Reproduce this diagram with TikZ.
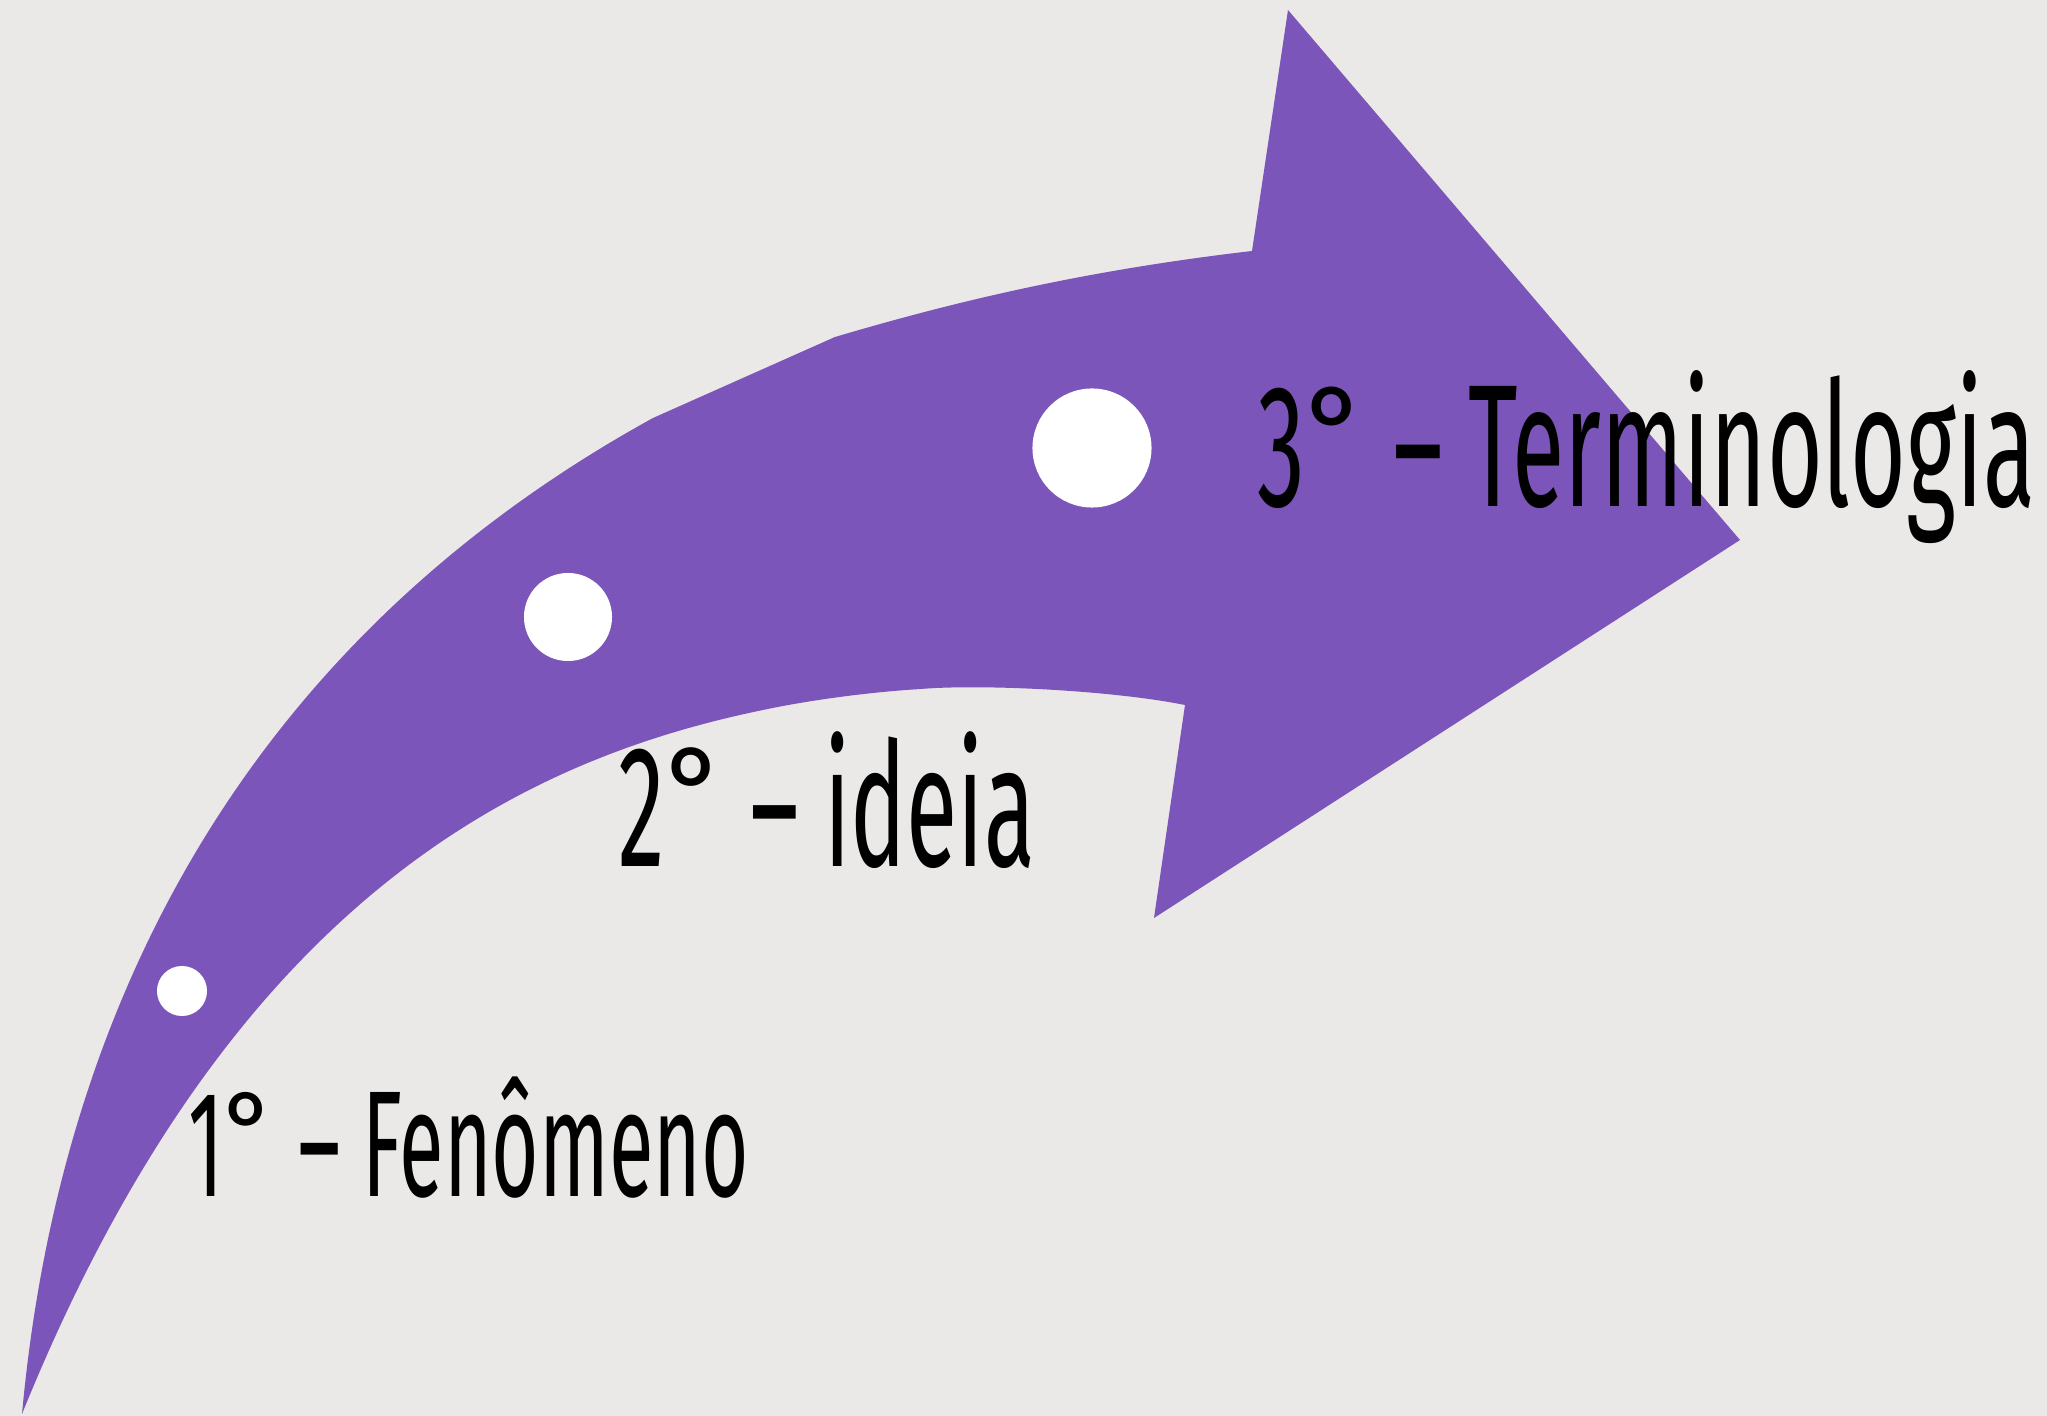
\documentclass[tikz,border=0pt]{standalone}
\usepackage{fontspec}
\usepackage{tikz}
\newfontfamily\stagefont{Fira Sans}
\definecolor{paper}{RGB}{234, 233, 231}
\definecolor{arrowviolet}{RGB}{123, 85, 185}
% condensed stage text: width, cap height, text
\newcommand*{\stage}[3]{\resizebox{#1}{#2}{\stagefont\vphantom{T}\smash{#3}}}
% small round degree sign inside the condensed text
\newcommand*{\degr}{\raisebox{0.2em}{\scalebox{1.25}[0.7]{°}}}

\begin{document}
\begin{tikzpicture}[
   x=0.01cm, y=-0.01cm,
   dot/.style={circle, fill=white, inner sep=0},
   stagetext/.style={anchor=base west, inner sep=0, text=black}
  ]

  % Paper
  \fill[paper] (0, 0) rectangle (2047, 1416);

  % Curved arrow
  \coordinate (tail) at (22, 1414);
  \coordinate (topnotch) at (1252, 251);
  \coordinate (toptip) at (1288, 10);
  \coordinate (tip) at (1740, 540);
  \coordinate (bottip) at (1154, 918);
  \coordinate (botnotch) at (1185, 705);
  \fill[arrowviolet] (tail)
    .. controls (60, 1000) and (250, 640) .. (653, 418)
    -- (835, 337)
    .. controls (950, 303) and (1080, 271) .. (topnotch)
    -- (toptip) -- (tip) -- (bottip) -- (botnotch)
    .. controls (1110, 690) and (980, 684) .. (921, 689)
    .. controls (870, 692) and (810, 700) .. (763, 710)
    .. controls (520, 760) and (230, 900) .. (tail)
    -- cycle;

  % Stages
  \node (dotA) at (182, 991) [dot, minimum size=0.5cm] {};
  \node (dotB) at (568, 617) [dot, minimum size=0.88cm] {};
  \node (dotC) at (1092, 448) [dot, minimum size=1.19cm] {};

  \node (stageA) at (188, 1197) [stagetext] {\stage{5.60cm}{1.04cm}{1\degr{} – Fenômeno}};
  \node (stageB) at (618, 867) [stagetext] {\stage{4.16cm}{1.19cm}{2\degr{} – ideia}};
  \node (stageC) at (1257, 507) [stagetext] {\stage{7.77cm}{1.20cm}{3\degr{} – Terminologia}};

\end{tikzpicture}
\end{document}
